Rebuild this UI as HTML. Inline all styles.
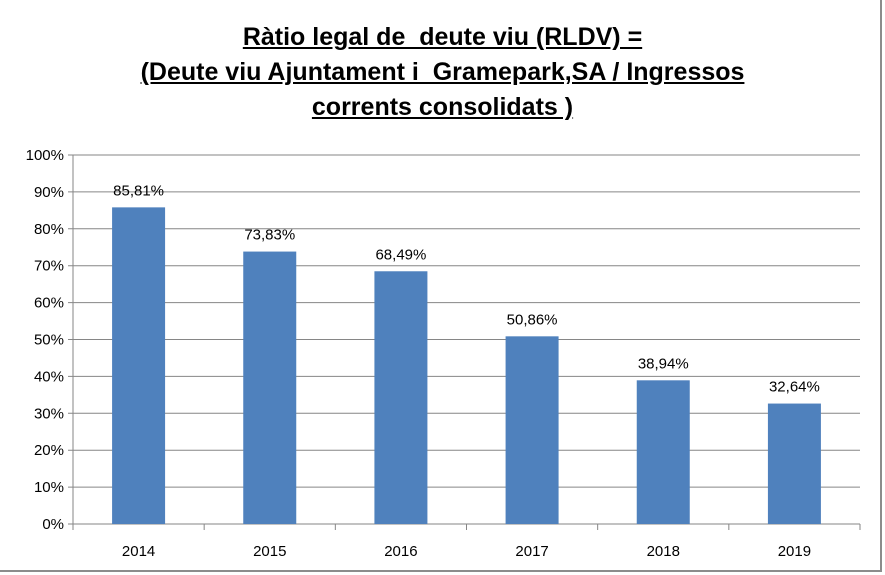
<!DOCTYPE html>
<html><head><meta charset="utf-8"><style>
body{margin:0;background:#fff;}
#c{position:relative;width:885px;height:575px;overflow:hidden;font-family:"Liberation Sans",sans-serif;}
#frame{position:absolute;left:0;top:0;width:882px;height:572px;border-right:2px solid #8c8c8c;border-bottom:2px solid #8c8c8c;box-sizing:border-box;}
#title{position:absolute;left:0;width:885px;top:20px;text-align:center;font-weight:bold;font-size:25px;line-height:35px;text-decoration:underline;white-space:pre;color:#000;}
</style></head><body>
<div id="c">
<div id="frame"></div>
<div id="title">Ràtio legal de  deute viu (RLDV) =
(Deute viu Ajuntament i  Gramepark,SA / Ingressos
corrents consolidats )</div>
<svg id="s" width="885" height="575" style="position:absolute;left:0;top:0"></svg>
</div>
<script>
const categories=["2014","2015","2016","2017","2018","2019"];
const values=[85.81,73.83,68.49,50.86,38.94,32.64];
const labels=["85,81%","73,83%","68,49%","50,86%","38,94%","32,64%"];
const yTicks=[0,10,20,30,40,50,60,70,80,90,100];
const L=73,R=860,T=155,B=524;
const svg=document.getElementById('s');const NS='http://www.w3.org/2000/svg';
const y=v=>B-(v/100)*(B-T);
const bw=(R-L)/categories.length;
const x=i=>L+bw*(i+0.5);
function mk(t,a){const e=document.createElementNS(NS,t);for(const k in a)e.setAttribute(k,a[k]);svg.appendChild(e);return e;}
yTicks.forEach(v=>{
 const g=mk('line',{x1:L-5,x2:R,y1:y(v),y2:y(v),stroke:'#868686','stroke-width':1});
 
 
 const t=mk('text',{x:L-9,y:y(v)+5,'text-anchor':'end','font-size':15,fill:'#000','font-family':'Liberation Sans, sans-serif'});
 t.textContent=v+'%';
 
 
});
const ax=mk('line',{x1:L,x2:L,y1:T,y2:B,stroke:'#868686'});


for(let i=0;i<=categories.length;i++){
 const tk=mk('line',{x1:L+bw*i,x2:L+bw*i,y1:B,y2:B+6,stroke:'#868686'});
 
 
}
categories.forEach((c,i)=>{
 const w=53;
 const r=mk('rect',{x:x(i)-w/2,y:y(values[i]),width:w,height:B-y(values[i]),fill:'#4f81bd'});
 
 
 const t=mk('text',{x:x(i),y:y(values[i])-12,'text-anchor':'middle','font-size':15,fill:'#000','font-family':'Liberation Sans, sans-serif'});
 t.textContent=labels[i];
 
 
 const xl=mk('text',{x:x(i),y:B+32,'text-anchor':'middle','font-size':15,fill:'#000','font-family':'Liberation Sans, sans-serif'});
 xl.textContent=c;
 
 
});
</script>
</body></html>
